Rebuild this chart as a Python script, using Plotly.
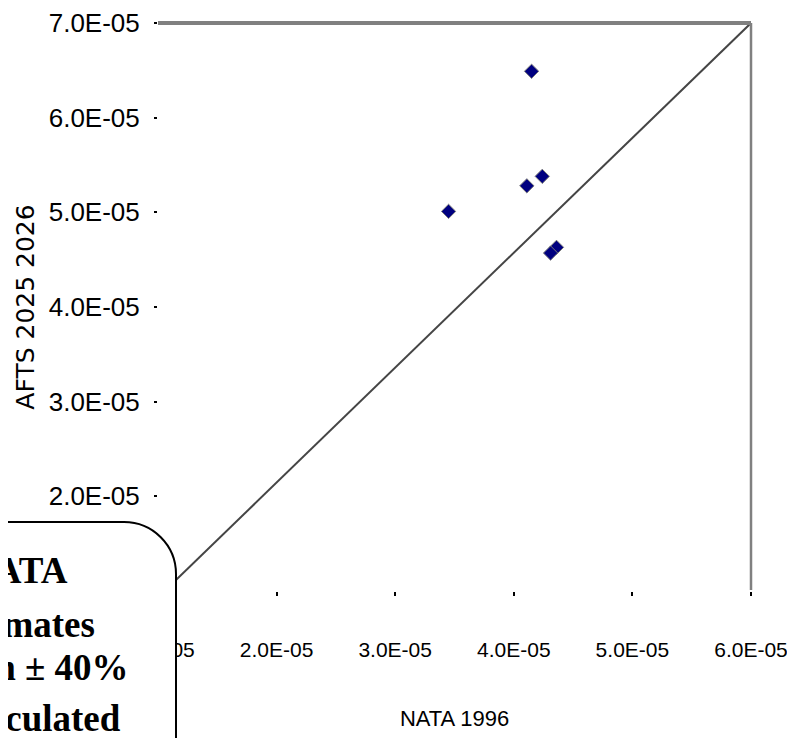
import plotly.graph_objects as go

# ---- data ----
nata_1996 = [4.15e-5, 4.24e-5, 4.11e-5, 3.45e-5, 4.36e-5, 4.31e-5]
afts_2025 = [6.49e-5, 5.38e-5, 5.28e-5, 5.01e-5, 4.63e-5, 4.57e-5]

ref_line_x = [1.056e-5, 6.0e-5]
ref_line_y = [1.0e-5, 7.0e-5]

x_tickvals = [1e-5, 2e-5, 3e-5, 4e-5, 5e-5, 6e-5]
x_ticktext = ["1.0E-05", "2.0E-05", "3.0E-05", "4.0E-05", "5.0E-05", "6.0E-05"]
y_tickvals = [2e-5, 3e-5, 4e-5, 5e-5, 6e-5, 7e-5]
y_ticktext = ["2.0E-05", "3.0E-05", "4.0E-05", "5.0E-05", "6.0E-05", "7.0E-05"]

box_lines = ["NATA", "estimates", "within ± 40%", "of calculated"]

# ---- layout geometry ----
# page body has an 8px margin, so the figure is sized to fit the window
OFF = 8
W, H = 795 - OFF, 738 - OFF
PL, PT, PR, PB = 158, 23, 751, 591          # plot area in screen pixels
L, T = PL - OFF, PT - OFF
R, B = 795 - PR, 738 - PB
PW, PH = PR - PL, PB - PT


def px(x):
    return (x - PL) / PW


def py(y):
    return (PB - y) / PH


fig = go.Figure()

fig.add_trace(go.Scatter(
    x=ref_line_x, y=ref_line_y, mode="lines",
    line=dict(color="#454545", width=2),
    hoverinfo="skip", showlegend=False,
))

fig.add_trace(go.Scatter(
    x=nata_1996, y=afts_2025, mode="markers",
    marker=dict(symbol="diamond", size=11, color="#000080",
                line=dict(color="#7a7a7a", width=1)),
    showlegend=False,
))

fig.update_xaxes(
    range=[1e-5, 6e-5], tickvals=x_tickvals, ticktext=x_ticktext,
    showgrid=False, zeroline=False, showline=False,
    ticks="outside", ticklen=4, tickwidth=2, tickcolor="black",
    tickfont=dict(family="Liberation Sans, Arial, sans-serif", size=21, color="black"),
    ticklabelstandoff=36, ticklabeloverflow="allow",
    title=dict(text="NATA 1996", standoff=50,
               font=dict(family="Liberation Sans, Arial, sans-serif", size=22, color="black")),
)
fig.update_yaxes(
    range=[1e-5, 7e-5], tickvals=y_tickvals, ticktext=y_ticktext,
    showgrid=False, zeroline=False, showline=False,
    ticks="outside", ticklen=3, tickwidth=2, tickcolor="black",
    tickfont=dict(family="Liberation Sans, Arial, sans-serif", size=26, color="black"),
    ticklabelstandoff=9, ticklabeloverflow="allow",
    title=dict(text="AFTS 2025 2026", standoff=6,
               font=dict(family="DejaVu Sans, sans-serif", size=25, color="black")),
)

# plot border: thick grey top, thinner grey right
shapes = [
    dict(type="line", xref="paper", yref="paper", x0=0, x1=1, y0=1, y1=1,
         line=dict(color="#808080", width=4), layer="above"),
    dict(type="line", xref="paper", yref="paper", x0=1, x1=1, y0=py(590), y1=1,
         line=dict(color="#808080", width=2.5), layer="above"),
]

# rounded text box in the lower-left corner (partly off-canvas)
bx_l, bx_r, bx_t, bx_b = px(-30), px(176), py(522), py(780)
rx, ry = 52 / PW, 52 / PH
k = 0.5523
path = (f"M {bx_l},{bx_t} L {bx_r - rx},{bx_t} "
        f"C {bx_r - rx + k * rx},{bx_t} {bx_r},{bx_t - ry + k * ry} {bx_r},{bx_t - ry} "
        f"L {bx_r},{bx_b} L {bx_l},{bx_b} Z")
shapes.append(dict(type="path", xref="paper", yref="paper", path=path,
                   fillcolor="white", line=dict(color="black", width=2), layer="above"))

line_right = [70, 97, 131, 123]
line_mid = [570, 624, 667, 718]
annotations = []
for txt, xr, ym in zip(box_lines, line_right, line_mid):
    annotations.append(dict(
        text=f"<b>{txt}</b>", xref="paper", yref="paper", x=px(xr), y=py(ym),
        xanchor="right", yanchor="middle", showarrow=False,
        font=dict(family="Liberation Serif, Times New Roman, serif", size=37, color="black"),
    ))

fig.update_layout(
    width=W, height=H,
    margin=dict(l=L, r=R, t=T, b=B, autoexpand=False),
    plot_bgcolor="white", paper_bgcolor="white",
    shapes=shapes, annotations=annotations,
    showlegend=False,
)

fig.write_html("out.html")
